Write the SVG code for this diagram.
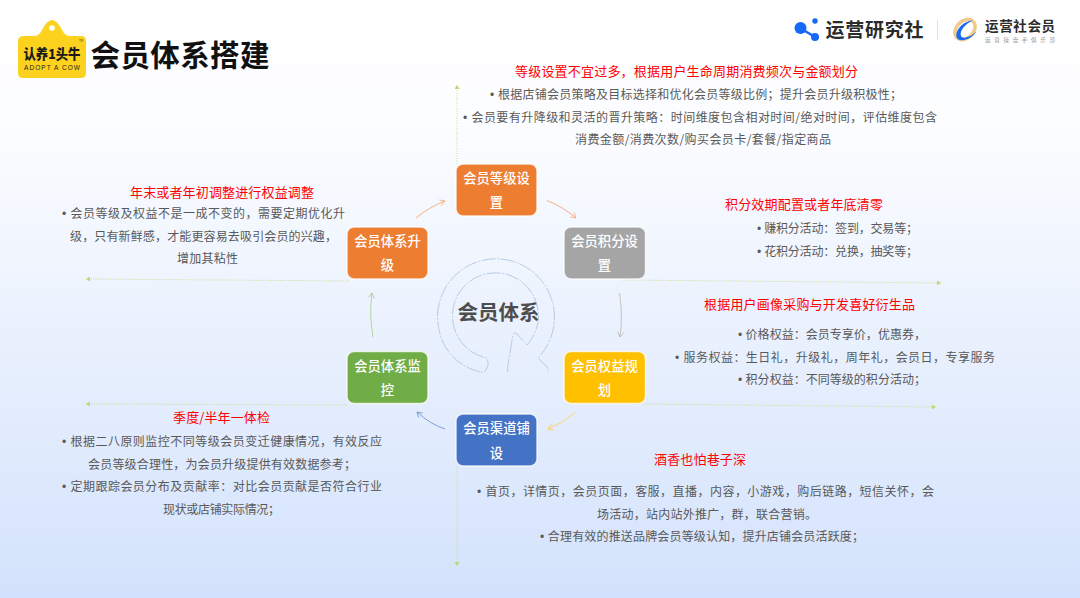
<svg xmlns="http://www.w3.org/2000/svg" width="1080" height="598" viewBox="0 0 1080 598">
<defs>
<linearGradient id="bg" x1="0" y1="0" x2="0" y2="1"><stop offset="0" stop-color="#ffffff"/><stop offset="0.2" stop-color="#fcfdff"/><stop offset="1" stop-color="#d3e2fc"/></linearGradient>
<marker id="mo" markerWidth="7" markerHeight="7" refX="6" refY="3.500" orient="auto" markerUnits="userSpaceOnUse"><path d="M1 .5L6 3.500L1 6.500" fill="none" stroke="#f4b183" stroke-width="0.8"/></marker>
<marker id="mg" markerWidth="7" markerHeight="7" refX="6" refY="3.500" orient="auto" markerUnits="userSpaceOnUse"><path d="M1 .5L6 3.500L1 6.500" fill="none" stroke="#b5b5b5" stroke-width="0.8"/></marker>
<marker id="my" markerWidth="7" markerHeight="7" refX="6" refY="3.500" orient="auto" markerUnits="userSpaceOnUse"><path d="M1 .5L6 3.500L1 6.500" fill="none" stroke="#ffc94d" stroke-width="0.8"/></marker>
<marker id="mb" markerWidth="7" markerHeight="7" refX="6" refY="3.500" orient="auto" markerUnits="userSpaceOnUse"><path d="M1 .5L6 3.500L1 6.500" fill="none" stroke="#6f94d8" stroke-width="0.8"/></marker>
<marker id="mn" markerWidth="7" markerHeight="7" refX="6" refY="3.500" orient="auto" markerUnits="userSpaceOnUse"><path d="M1 .5L6 3.500L1 6.500" fill="none" stroke="#a3cc88" stroke-width="0.8"/></marker>
<marker id="md" markerWidth="5" markerHeight="5" refX="4" refY="2.500" orient="auto" markerUnits="userSpaceOnUse"><path d="M0 0L4 2.500L0 5Z" fill="#c3d66e"/></marker>
</defs>
<style>
text{font-family:"Noto Sans CJK SC","Liberation Sans",sans-serif}
.h{font-size:13px;fill:#ff0000}
.b{font-size:12px;fill:#595959}
.p{font-family:"Liberation Sans",sans-serif}
.n{font-size:13.300px;fill:#ffffff;text-anchor:middle;font-weight:500}
.box{stroke:#ffffff;stroke-opacity:.75;stroke-width:1.500}
.c{fill:none;stroke-width:1}
.d{fill:none;stroke:#cbdc8f;stroke-width:1;stroke-dasharray:1 1.500;marker-end:url(#md)}
</style>
<rect width="1080" height="598" fill="url(#bg)"/>

<g id="logo-left">
<path d="M24 36H34Q39 36 42 30Q47 20 52 20Q57 20 62 30Q65 36 70 36H81Q86 36 86 41V73Q86 78 81 78H23Q18 78 18 73V41Q18 36 24 36Z" fill="#fdd21f"/>
<circle cx="52" cy="28" r="2.800" fill="#ffffff"/>
<text x="23.500" y="59" font-size="13.500" font-weight="900" fill="#1a1a1a" textLength="57" lengthAdjust="spacingAndGlyphs">认养1头牛</text>
<text x="24" y="70" font-size="6.500" font-weight="500" fill="#1a1a1a" textLength="56" style="font-family:'Liberation Sans',sans-serif">ADOPT A COW</text>
<text x="79" y="42" font-size="3" fill="#333">TM</text>
</g>
<text id="title" x="90.500" y="66" font-size="29.500" font-weight="700" fill="#111111" textLength="179">会员体系搭建</text>

<g id="logo-right">
<circle cx="800.500" cy="28" r="6" fill="#1668f5"/><circle cx="815" cy="21" r="2.700" fill="#1668f5"/><circle cx="815" cy="37" r="4" fill="#1668f5"/>
<path d="M800 28L815 37" stroke="#1668f5" stroke-width="2.500"/>
<text x="825.500" y="37" font-size="19" font-weight="700" fill="#2b2b2b" textLength="98">运营研究社</text>
<rect x="937" y="20" width="1" height="20" fill="#e2e2e2"/>
<ellipse cx="965" cy="29.500" rx="11.500" ry="8.500" transform="rotate(-45 965 29.500)" fill="none" stroke="#f2c98a" stroke-width="3.500"/>
<path d="M973 20.500C963 21 954 31 957 38C960 43 973 39 976.500 31C973 36 963 40 961 36C959 31 966 23 973 20.500Z" fill="#1668f5"/>
<text x="985" y="31" font-size="13.500" font-weight="700" fill="#2b2b2b" textLength="70">运营社会员</text>
<text x="985" y="41.500" font-size="5.500" fill="#9a9a9a" textLength="70">运营操盘手俱乐部</text>
</g>

<g id="center">
<path d="M480 372C452 365 437.500 342 437.500 316A58.500 58.500 0 1 1 538 358L548 368Q550 372 546 372M508 372Q507 370 508 365L513 335Q514 331 517 334L527 345A43 43 0 1 0 487 358Q490 364 486 370Q484 373 480 372" fill="none" stroke="#b7cbe4" stroke-width="1" stroke-dasharray="14 1.500 2 1.500"/>
<text x="498.500" y="320" font-size="20.500" font-weight="700" fill="#4d4d4d" text-anchor="middle">会员体系</text>
</g>

<g id="connectors">
<path class="c" stroke="#f4b183" d="M547 200.500Q563 207 576 218" marker-end="url(#mo)"/>
<path class="c" stroke="#c4c4c4" d="M619.500 293Q623 315 620 337" marker-end="url(#mg)"/>
<path class="c" stroke="#ffd27a" d="M576 412Q563 423 548 429" marker-end="url(#my)"/>
<path class="c" stroke="#7f9fdc" d="M445 429Q430 424 417 412" marker-end="url(#mb)"/>
<path class="c" stroke="#b5d69f" d="M373 337Q369 315 372 293" marker-end="url(#mn)"/>
<path class="c" stroke="#f4b183" d="M416 218Q429 207 445 201" marker-end="url(#mo)"/>
<path class="d" d="M457 164V85"/>
<path class="d" d="M457 466V566"/>
<path class="d" d="M623 280L941 283"/>
<path class="d" d="M636 404L936 407"/>
<path class="d" d="M349 281L86 279"/>
<path class="d" d="M347 405L86 404"/>
</g>

<g id="node-level"><rect class="box" x="456" y="164" width="81" height="52" rx="7" fill="#ed7d31"/><text class="n" x="496.500" y="183">会员等级设</text><text class="n" x="496.500" y="207">置</text></g>
<g id="node-points"><rect class="box" x="564" y="227" width="81.500" height="52" rx="7" fill="#a5a5a5"/><text class="n" x="604.500" y="246">会员积分设</text><text class="n" x="604.500" y="270">置</text></g>
<g id="node-benefits"><rect class="box" x="564" y="351.500" width="81.500" height="52" rx="7" fill="#ffc000"/><text class="n" x="604.500" y="371">会员权益规</text><text class="n" x="604.500" y="395">划</text></g>
<g id="node-channel"><rect class="box" x="456" y="414" width="81" height="52" rx="7" fill="#4472c4"/><text class="n" x="496.500" y="433">会员渠道铺</text><text class="n" x="496.500" y="458">设</text></g>
<g id="node-monitor"><rect class="box" x="347" y="351.500" width="81" height="52" rx="7" fill="#70ad47"/><text class="n" x="387.500" y="371">会员体系监</text><text class="n" x="387.500" y="395">控</text></g>
<g id="node-upgrade"><rect class="box" x="347" y="227" width="81" height="52" rx="7" fill="#ed7d31"/><text class="n" x="387.500" y="246">会员体系升</text><text class="n" x="387.500" y="270">级</text></g>

<g id="text-top">
<text class="h" x="515" y="76" textLength="343">等级设置不宜过多，根据用户生命周期消费频次与金额划分</text>
<text class="b" x="490" y="99" textLength="412"><tspan class="p">• </tspan>根据店铺会员策略及目标选择和优化会员等级比例；提升会员升级积极性；</text>
<text class="b" x="463" y="122" textLength="474"><tspan class="p">• </tspan>会员要有升降级和灵活的晋升策略：时间维度包含相对时间/绝对时间，评估维度包含</text>
<text class="b" x="575" y="144" textLength="256">消费金额/消费次数/购买会员卡/套餐/指定商品</text>
</g>
<g id="text-points">
<text class="h" x="725" y="209" textLength="158">积分效期配置或者年底清零</text>
<text class="b" x="757" y="233" textLength="161"><tspan class="p">• </tspan>赚积分活动：签到，交易等；</text>
<text class="b" x="757" y="256" textLength="161"><tspan class="p">• </tspan>花积分活动：兑换，抽奖等；</text>
</g>
<g id="text-benefits">
<text class="h" x="704" y="309" textLength="211">根据用户画像采购与开发喜好衍生品</text>
<text class="b" x="738" y="339" textLength="188"><tspan class="p">• </tspan>价格权益：会员专享价，优惠券，</text>
<text class="b" x="675" y="362" textLength="320"><tspan class="p">• </tspan>服务权益：生日礼，升级礼，周年礼，会员日，专享服务</text>
<text class="b" x="738" y="384" textLength="188"><tspan class="p">• </tspan>积分权益：不同等级的积分活动；</text>
</g>
<g id="text-channel">
<text class="h" x="654" y="464" textLength="92">酒香也怕巷子深</text>
<text class="b" x="477" y="496" textLength="457"><tspan class="p">• </tspan>首页，详情页，会员页面，客服，直播，内容，小游戏，购后链路，短信关怀，会</text>
<text class="b" x="597" y="519" textLength="220">场活动，站内站外推广，群，联合营销。</text>
<text class="b" x="540" y="541" textLength="324"><tspan class="p">• </tspan>合理有效的推送品牌会员等级认知，提升店铺会员活跃度；</text>
</g>
<g id="text-upgrade">
<text class="h" x="130" y="197" textLength="184">年末或者年初调整进行权益调整</text>
<text class="b" x="62" y="218" textLength="283"><tspan class="p">• </tspan>会员等级及权益不是一成不变的，需要定期优化升</text>
<text class="b" x="70" y="241" textLength="267">级，只有新鲜感，才能更容易去吸引会员的兴趣，</text>
<text class="b" x="177" y="263" textLength="61">增加其粘性</text>
</g>
<g id="text-monitor">
<text class="h" x="173" y="422" textLength="97">季度/半年一体检</text>
<text class="b" x="62" y="446" textLength="320"><tspan class="p">• </tspan>根据二八原则监控不同等级会员变迁健康情况，有效反应</text>
<text class="b" x="88" y="469" textLength="268">会员等级合理性，为会员升级提供有效数据参考；</text>
<text class="b" x="62" y="491" textLength="320"><tspan class="p">• </tspan>定期跟踪会员分布及贡献率：对比会员贡献是否符合行业</text>
<text class="b" x="163" y="514" textLength="117">现状或店铺实际情况；</text>
</g>
</svg>
